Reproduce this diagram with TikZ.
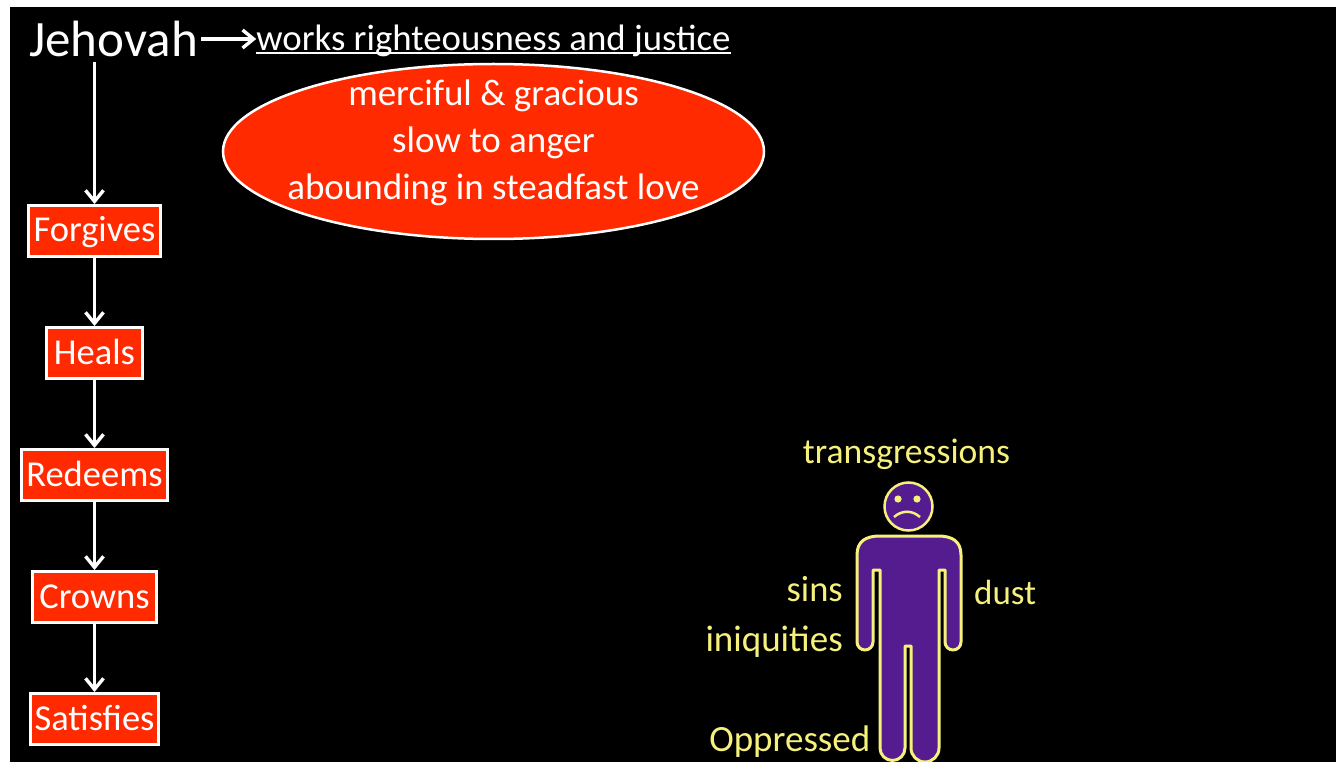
\documentclass[tikz,border=0pt]{standalone}
\usepackage{fontspec}
\setmainfont{Carlito}
\usetikzlibrary{arrows.meta,shapes.geometric}
\definecolor{slidered}{HTML}{FF2A00}
\definecolor{sadpurple}{HTML}{541C8E}
\definecolor{sadyellow}{HTML}{F6F17C}
\tikzset{
    verbbox/.style={draw=white, line width=3pt, fill=slidered, text=white, font=\fontsize{36.5}{36.5}\selectfont, minimum height=51pt, inner xsep=0pt, inner ysep=0pt, text height=28pt, text depth=6pt},
    flow/.style={draw=white, line width=3.4pt, -{Straight Barb[length=11pt,width=18pt,line width=3.4pt]}},
    sadlabel/.style={text=sadyellow, font=\fontsize{36.5}{36.5}\selectfont, inner sep=0pt},
}
\begin{document}
\begin{tikzpicture}[x=1pt,y=-1pt]
    \useasboundingbox (0,0) rectangle (1336,762);
    \fill[black] (10,7) rectangle (1336,762);
    \node[text=white, font=\fontsize{51}{51}\selectfont, inner sep=0pt] (jehovah) at (113.5,39) {Jehovah};
    \node[text=white, font=\fontsize{36.8}{36.8}\selectfont, inner sep=0pt, anchor=base] (works) at (493.5,51) {works righteousness and justice};
    \draw[white, line width=1.6pt] ([yshift=-2pt]works.base west) -- ([yshift=-2pt]works.base east);
    \node[ellipse, draw=white, line width=2.5pt, fill=slidered, inner sep=0pt, minimum width=541pt, minimum height=175pt] (oval) at (493.5,151.5) {};
    \node[text=white, align=center, inner sep=0pt, font=\fontsize{37}{47}\selectfont] (attrs) at (493.5,143)
        {merciful \& gracious\\slow to anger\\abounding in steadfast love};
    \node[verbbox, minimum width=132pt] (forgives) at (94.5,231) {Forgives};
    \node[verbbox, minimum width=96pt] (heals) at (94.5,353) {Heals};
    \node[verbbox, minimum width=146pt] (redeems) at (94.5,475) {Redeems};
    \node[verbbox, minimum width=124pt] (crowns) at (94.5,597) {Crowns};
    \node[verbbox, minimum width=128pt] (satisfies) at (94.5,719) {Satisfies};
    \draw[flow] ([xshift=3pt]jehovah.east) -- (works.west |- jehovah.east);
    \draw[flow] ([yshift=-5pt]forgives |- jehovah.south) -- (forgives.north);
    \draw[flow] (forgives) -- (heals);
    \draw[flow] (heals) -- (redeems);
    \draw[flow] (redeems) -- (crowns);
    \draw[flow] (crowns) -- (satisfies);
    \draw[draw=sadyellow, line width=3pt, fill=sadpurple, line join=round]
        (857,555) .. controls (857,541) and (866,536) .. (880,536) -- (938,536)
        .. controls (952,536) and (961,541) .. (961,555) -- (961,642)
        arc[start angle=0, end angle=180, radius=8] -- (945,570) -- (939,570)
        -- (939,748) arc[start angle=0, end angle=180, radius=14] -- (911,646) -- (905,646)
        -- (905,748) arc[start angle=0, end angle=180, radius=12.5] -- (880,570) -- (873,570)
        -- (873,642) arc[start angle=0, end angle=180, radius=8] -- cycle;
    \fill[sadpurple, draw=sadyellow, line width=2.5pt] (908.5,506.5) circle (24);
    \fill[sadyellow] (898,499) circle (3.6);
    \fill[sadyellow] (917,499) circle (3.6);
    \draw[sadyellow, line width=2.5pt] (894,517) .. controls (902,510) and (912,510) .. (920,517);
    \node[sadlabel, font=\fontsize{35.6}{35.6}\selectfont, anchor=base] (transgressions) at (906.5,463) {transgressions};
    \node[sadlabel, anchor=base east] (sins) at (843,601) {sins};
    \node[sadlabel, font=\fontsize{37}{37}\selectfont, anchor=base east] (iniquities) at (843,651) {iniquities};
    \node[sadlabel, font=\fontsize{35}{35}\selectfont, anchor=base west] (dust) at (974,604) {dust};
    \node[sadlabel, font=\fontsize{37}{37}\selectfont, anchor=base east] (oppressed) at (870.5,751) {Oppressed};
\end{tikzpicture}
\end{document}
